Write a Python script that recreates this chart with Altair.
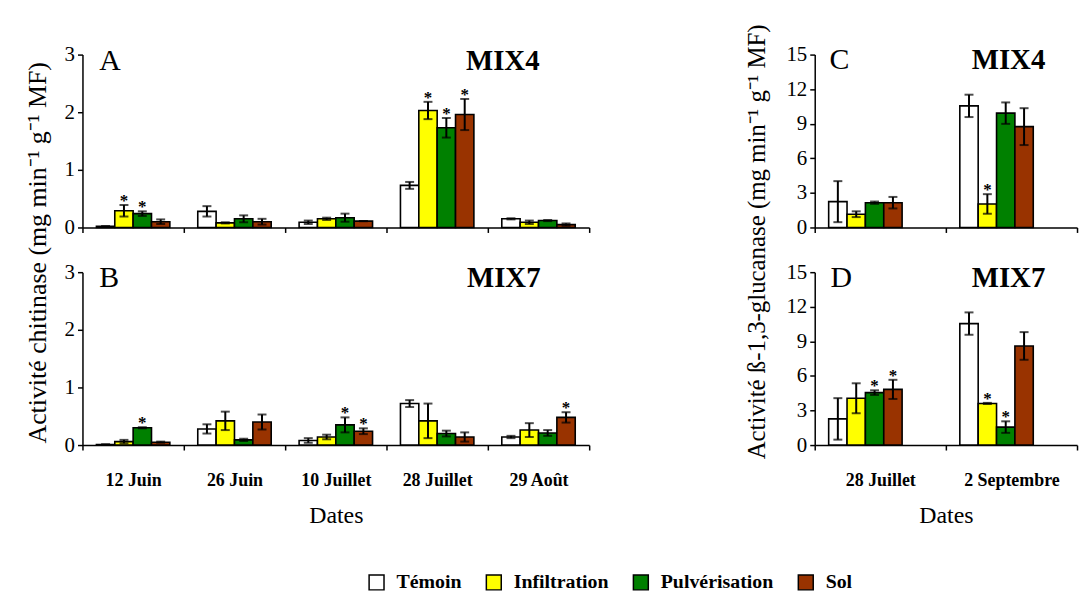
import altair as alt
import pandas as pd

treatments = ["Témoin", "Infiltration", "Pulvérisation", "Sol"]
fill_colors = ["#ffffff", "#ffff00", "#008000", "#993300"]

dates_chitinase = ["12 Juin", "26 Juin", "10 Juillet", "28 Juillet", "29 Août"]
dates_glucanase = ["28 Juillet", "2 Septembre"]

# Chitinase activity, MIX4 (panel A): one list per treatment, one value per date
a_mean = {
    "Témoin": [0.02, 0.28, 0.09, 0.73, 0.15],
    "Infiltration": [0.29, 0.08, 0.15, 2.03, 0.09],
    "Pulvérisation": [0.24, 0.15, 0.17, 1.73, 0.12],
    "Sol": [0.10, 0.10, 0.11, 1.96, 0.05],
}
a_err = {
    "Témoin": [0.0, 0.09, 0.03, 0.06, 0.01],
    "Infiltration": [0.10, 0.01, 0.02, 0.15, 0.03],
    "Pulvérisation": [0.04, 0.06, 0.07, 0.17, 0.01],
    "Sol": [0.04, 0.05, 0.0, 0.27, 0.02],
}
a_signif = [("Infiltration", "12 Juin"), ("Pulvérisation", "12 Juin"),
            ("Infiltration", "28 Juillet"), ("Pulvérisation", "28 Juillet"),
            ("Sol", "28 Juillet")]

# Chitinase activity, MIX7 (panel B)
b_mean = {
    "Témoin": [0.01, 0.28, 0.08, 0.72, 0.14],
    "Infiltration": [0.06, 0.42, 0.14, 0.42, 0.26],
    "Pulvérisation": [0.30, 0.09, 0.35, 0.20, 0.21],
    "Sol": [0.05, 0.40, 0.24, 0.14, 0.48],
}
b_err = {
    "Témoin": [0.0, 0.08, 0.04, 0.06, 0.02],
    "Infiltration": [0.03, 0.16, 0.04, 0.30, 0.12],
    "Pulvérisation": [0.01, 0.02, 0.13, 0.05, 0.05],
    "Sol": [0.01, 0.13, 0.05, 0.08, 0.09],
}
b_signif = [("Pulvérisation", "12 Juin"), ("Pulvérisation", "10 Juillet"),
            ("Sol", "10 Juillet"), ("Sol", "29 Août")]

# Beta-1,3-glucanase activity, MIX4 (panel C)
c_mean = {
    "Témoin": [2.24, 10.55],
    "Infiltration": [1.15, 2.04],
    "Pulvérisation": [2.15, 9.92],
    "Sol": [2.15, 8.75],
}
c_err = {
    "Témoin": [1.78, 0.97],
    "Infiltration": [0.25, 0.85],
    "Pulvérisation": [0.10, 0.93],
    "Sol": [0.50, 1.60],
}
c_signif = [("Infiltration", "2 Septembre")]

# Beta-1,3-glucanase activity, MIX7 (panel D)
d_mean = {
    "Témoin": [2.27, 10.54],
    "Infiltration": [4.06, 3.61],
    "Pulvérisation": [4.55, 1.56],
    "Sol": [4.83, 8.60],
}
d_err = {
    "Témoin": [1.80, 0.97],
    "Infiltration": [1.30, 0.05],
    "Pulvérisation": [0.20, 0.50],
    "Sol": [0.83, 1.20],
}
d_signif = [("Pulvérisation", "28 Juillet"), ("Sol", "28 Juillet"),
            ("Infiltration", "2 Septembre"), ("Pulvérisation", "2 Septembre")]

FONT = "Liberation Serif"

legend_spec = alt.Legend(
    title=None, orient="none", legendX=286, legendY=521,
    direction="horizontal", symbolType="square", symbolSize=225,
    symbolStrokeColor="black", symbolStrokeWidth=1.5,
    labelFont=FONT, labelFontSize=20, labelFontWeight="bold",
    labelColor="black", labelOffset=10, columnPadding=21,
)


def to_frame(mean, err, signif, dates):
    rows = []
    for t in treatments:
        for i, d in enumerate(dates):
            m, e = mean[t][i], err[t][i]
            rows.append({
                "date": d, "treatment": t, "mean": m,
                "lo": m - e, "hi": m + e,
                "star": "*" if (t, d) in signif else "",
            })
    return pd.DataFrame(rows)


def panel(mean, err, signif, dates, ymax, ystep, width, height,
          letter, mix, bottom, ytitle=None, title_x=0, title_y=0,
          title_size=25):
    df = to_frame(mean, err, signif, dates)
    x = alt.X(
        "date:N", sort=dates,
        scale=alt.Scale(domain=dates, paddingInner=0, paddingOuter=0),
        axis=alt.Axis(
            title="Dates" if bottom else None, labels=bottom,
            tickBand="extent", labelAngle=0, labelFontWeight="bold",
            labelFontSize=18, labelPadding=22, titleFontSize=24,
            titleFontWeight="normal", titlePadding=14,
        ),
    )
    xo = alt.XOffset(
        "treatment:N", sort=treatments,
        scale=alt.Scale(domain=treatments, paddingInner=0, paddingOuter=0.76),
    )
    tick_values = list(range(0, ymax + 1, ystep))
    yaxis_kw = dict(values=tick_values, format="d", labelPadding=3,
                    labelOverlap=False, tickCount=len(tick_values))
    if ytitle:
        yaxis_kw.update(title=ytitle, titleX=title_x, titleY=title_y,
                        titleFontSize=title_size, titleFontWeight="normal",
                        titleAngle=-90, titleAlign="center",
                        titleBaseline="bottom")
    else:
        yaxis_kw.update(title=None)
    y_axis = alt.Axis(**yaxis_kw)
    y_scale = alt.Scale(domain=[0, ymax], nice=False)

    base = alt.Chart(df)
    bars = base.mark_bar(stroke="black", strokeWidth=1.6).encode(
        x=x, xOffset=xo,
        y=alt.Y("mean:Q", scale=y_scale, axis=y_axis),
        fill=alt.Fill("treatment:N",
                      scale=alt.Scale(domain=treatments, range=fill_colors),
                      legend=legend_spec),
    )
    whiskers = base.mark_rule(color="black", strokeWidth=2).encode(
        x=x, xOffset=xo, y=alt.Y("lo:Q", scale=y_scale, axis=y_axis),
        y2="hi:Q",
    )
    cap_hi = base.mark_tick(color="black", size=9, thickness=2).encode(
        x=x, xOffset=xo, y=alt.Y("hi:Q", scale=y_scale, axis=y_axis)
    )
    cap_lo = base.mark_tick(color="black", size=9, thickness=2).encode(
        x=x, xOffset=xo, y=alt.Y("lo:Q", scale=y_scale, axis=y_axis)
    )
    stars = base.mark_text(font=FONT, fontSize=17, fontWeight="bold",
                           baseline="alphabetic", dy=1).encode(
        x=x, xOffset=xo, y=alt.Y("hi:Q", scale=y_scale, axis=y_axis),
        text="star:N",
    )
    letter_mark = alt.Chart(pd.DataFrame({"t": [letter[0]]})).mark_text(
        font=FONT, fontSize=30, align="left", baseline="alphabetic"
    ).encode(x=alt.value(letter[1]), y=alt.value(letter[2]), text="t:N")
    mix_mark = alt.Chart(pd.DataFrame({"t": [mix[0]]})).mark_text(
        font=FONT, fontSize=29, fontWeight="bold", align="left",
        baseline="alphabetic"
    ).encode(x=alt.value(mix[1]), y=alt.value(mix[2]), text="t:N")

    return alt.layer(bars, whiskers, cap_lo, cap_hi, stars, letter_mark,
                     mix_mark).properties(width=width, height=height)


chit_title = "Activité chitinase (mg min⁻¹ g⁻¹ MF)"
gluc_title = "Activité ß-1,3-glucanase (mg min⁻¹ g⁻¹ MF)"

pa = panel(a_mean, a_err, a_signif, dates_chitinase, 3, 1, 510, 174,
           ("A", 17, 16), ("MIX4", 386, 16), False,
           ytitle=chit_title, title_x=-32, title_y=199, title_size=26)
pb = panel(b_mean, b_err, b_signif, dates_chitinase, 3, 1, 510, 174,
           ("B", 17, 15), ("MIX7", 387, 15), True)
pc = panel(c_mean, c_err, c_signif, dates_glucanase, 15, 3, 264, 174,
           ("C", 15, 15), ("MIX4", 158, 15), False,
           ytitle=gluc_title, title_x=-46, title_y=188)
pd_ = panel(d_mean, d_err, d_signif, dates_glucanase, 15, 3, 264, 174,
            ("D", 16, 15), ("MIX7", 158, 15), True)

chart = alt.concat(
    pa, pc, pb, pd_, columns=2, spacing={"row": 45, "column": 227},
    bounds="flush",
).resolve_scale(x="independent", y="independent").configure_view(
    stroke=None
).configure_axis(
    domainColor="black", domainWidth=1.5, tickColor="black", tickWidth=1.5,
    tickSize=5, labelFont=FONT, labelFontSize=21, labelColor="black",
    titleFont=FONT, titleColor="black", grid=False,
).configure_axisY(labelOverlap=False).configure_text(color="black").properties(
    padding={"left": 25, "top": 22, "right": 2, "bottom": 5}
)

chart.save("out.html", embed_options={"renderer": "svg", "actions": False})
